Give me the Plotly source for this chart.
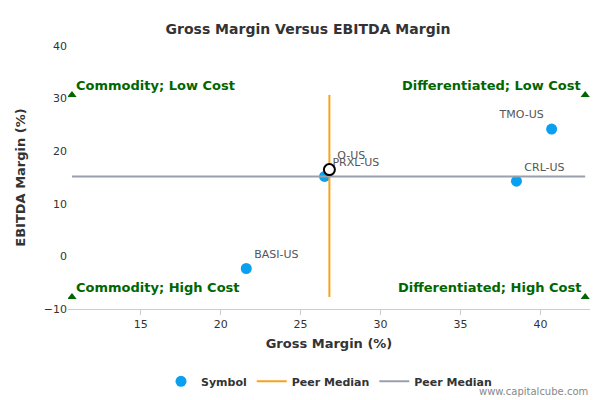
import plotly.graph_objects as go

symbols = ["TMO-US", "CRL-US", "BASI-US", "PRXL-US"]
gross = [40.7, 38.5, 21.6, 26.5]
ebitda = [24.2, 14.3, -2.3, 15.2]
focus_name = "O-US"
focus_x, focus_y = 26.8, 16.5
med_x, med_y = 26.8, 15.2
x_lo, x_hi = 10.7, 42.8
y_lo, y_hi = -7.7, 30.7
quad_labels = ["Commodity; Low Cost", "Differentiated; Low Cost",
               "Commodity; High Cost", "Differentiated; High Cost"]

fig = go.Figure()
fig.add_trace(go.Scatter(x=gross, y=ebitda, mode="markers+text", text=symbols,
                         textposition=["top left", "top right", "top right", "top right"],
                         textfont=dict(color="#555", size=11),
                         marker=dict(color="#0aa0f0", size=11), name="<b>Symbol</b>"))
fig.add_trace(go.Scatter(x=[med_x, med_x], y=[y_lo, y_hi], mode="lines",
                         line=dict(color="#f7a21b", width=2), name="<b>Peer Median</b>"))
fig.add_trace(go.Scatter(x=[x_lo, x_hi], y=[med_y, med_y], mode="lines",
                         line=dict(color="#9a9fac", width=2), name="<b>Peer Median</b>"))
fig.add_trace(go.Scatter(x=[focus_x], y=[focus_y], mode="markers+text", text=[focus_name],
                         textposition="top right", textfont=dict(color="#555", size=11),
                         marker=dict(color="white", size=11, line=dict(color="black", width=2)),
                         showlegend=False))
fig.add_trace(go.Scatter(x=[x_lo, x_hi, x_lo, x_hi], y=[y_hi, y_hi, y_lo, y_lo], mode="markers",
                         marker=dict(symbol="triangle-up", color="#006600", size=8),
                         showlegend=False, hoverinfo="skip"))
for i, t in enumerate(quad_labels):
    fig.add_annotation(x=x_lo if i % 2 == 0 else x_hi, y=y_hi if i < 2 else y_lo,
                       text="<b>" + t + "</b>", showarrow=False,
                       xanchor="left" if i % 2 == 0 else "right", yanchor="bottom",
                       xshift=2 if i % 2 == 0 else -2, yshift=0,
                       font=dict(color="#006600", size=13))
fig.add_annotation(x=1, y=0, xref="paper", yref="paper", yshift=-90, text="www.capitalcube.com",
                   showarrow=False, xanchor="right", yanchor="bottom",
                   font=dict(color="#888", size=10))

fig.update_layout(
    width=600, height=400, plot_bgcolor="white", paper_bgcolor="white",
    font=dict(family="DejaVu Sans", color="#333"),
    title=dict(text="<b>Gross Margin Versus EBITDA Margin</b>", x=0.5, y=0.96, font=dict(size=14)),
    margin=dict(l=60, r=18, t=38, b=90),
    xaxis=dict(range=[10.45, 43.1], tickvals=[15, 20, 25, 30, 35, 40], showgrid=False,
               showline=True, linecolor="#ccc", ticks="outside", tickcolor="#ccc",
               title=dict(text="<b>Gross Margin (%)</b>", font=dict(size=13), standoff=8),
               zeroline=False, tickfont=dict(size=11)),
    yaxis=dict(range=[-10, 40], dtick=10, showgrid=False, zeroline=False,
               title=dict(text="<b>EBITDA Margin (%)</b>", font=dict(size=13)),
               tickfont=dict(size=11)),
    legend=dict(orientation="h", x=0.5, xanchor="center", y=-0.22, yanchor="top",
                font=dict(size=11)),
)
fig.write_html("out.html")
